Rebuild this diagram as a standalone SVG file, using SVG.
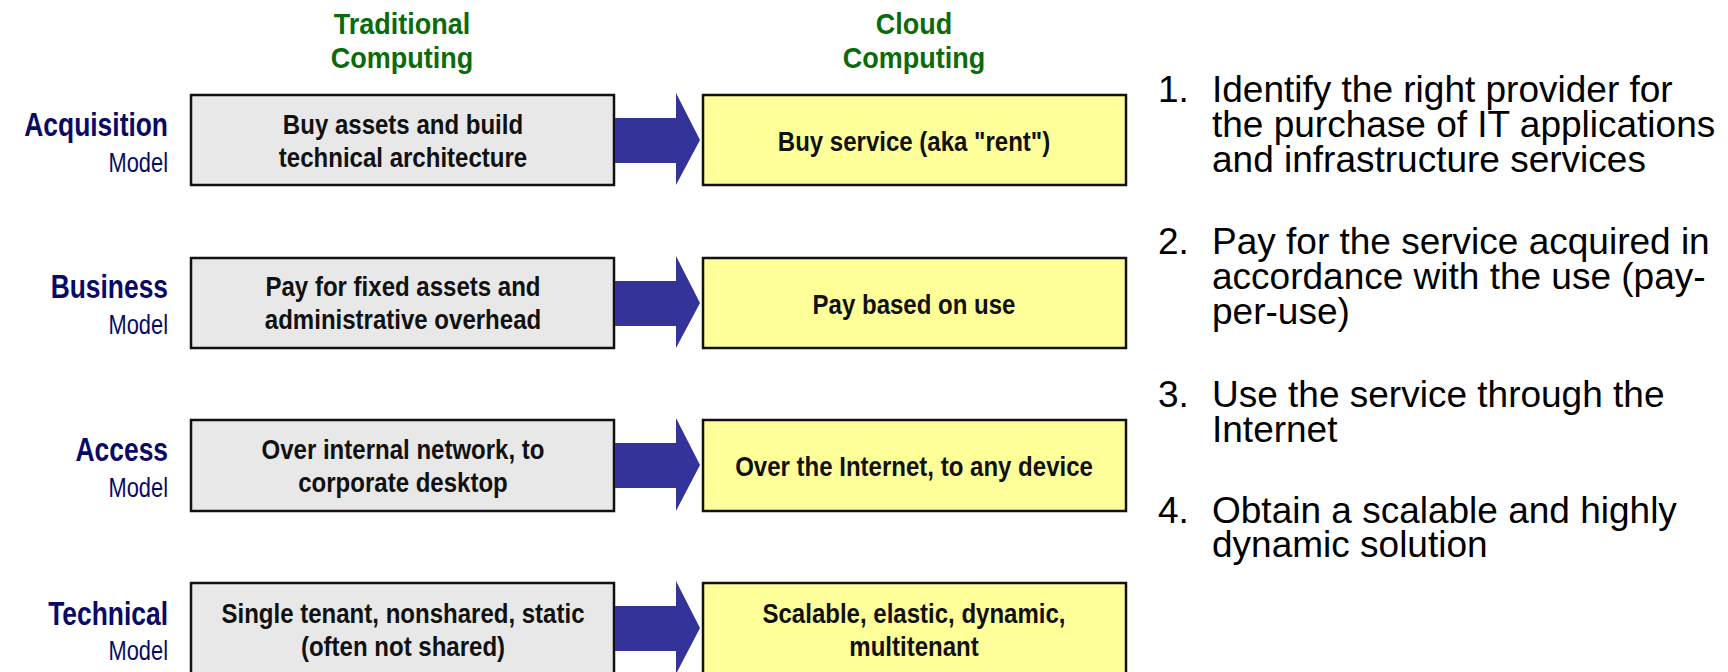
<svg xmlns="http://www.w3.org/2000/svg" width="1728" height="672" viewBox="0 0 1728 672">
<defs>
<style>
.hdr{font-family:"Liberation Sans",Arial,sans-serif;font-weight:bold;font-size:30px;fill:#0b6a0b;text-anchor:middle}
.lbl{font-family:"Liberation Sans",Arial,sans-serif;font-weight:bold;font-size:33px;fill:#0a0a66;text-anchor:end}
.sub{font-family:"Liberation Sans",Arial,sans-serif;font-size:28px;fill:#0a0a66;text-anchor:end}
.bt{font-family:"Liberation Sans",Arial,sans-serif;font-weight:bold;font-size:27px;fill:#111;text-anchor:middle}
.gray{fill:#e8e8e8;stroke:#111;stroke-width:2.5}
.yel{fill:#ffff99;stroke:#111;stroke-width:2.5}
.arr{fill:#333399}
.li{font-family:"Liberation Sans",Arial,sans-serif;font-size:37px;fill:#000}
</style>
</defs>
<rect width="1728" height="672" fill="#fff"/>
<g id="headers">
<text class="hdr" transform="translate(402,34) scale(0.9,1)">Traditional</text>
<text class="hdr" transform="translate(402,68) scale(0.9,1)">Computing</text>
<text class="hdr" transform="translate(914,34) scale(0.9,1)">Cloud</text>
<text class="hdr" transform="translate(914,68) scale(0.9,1)">Computing</text>
</g>
<g id="row-acquisition">
<text class="lbl" transform="translate(168,136) scale(0.8,1)">Acquisition</text>
<text class="sub" transform="translate(168,172) scale(0.78,1)">Model</text>
<g id="trad-acquisition"><rect class="gray" x="191" y="95" width="423" height="90"/>
<text class="bt" transform="translate(403,134) scale(0.89,1)">Buy assets and build</text>
<text class="bt" transform="translate(403,167) scale(0.89,1)">technical architecture</text></g>
<g id="cloud-acquisition"><rect class="yel" x="703" y="95" width="423" height="90"/>
<text class="bt" transform="translate(914,151) scale(0.89,1)">Buy service (aka "rent")</text></g>
</g>
<g id="row-business">
<text class="lbl" transform="translate(168,298) scale(0.8,1)">Business</text>
<text class="sub" transform="translate(168,334) scale(0.78,1)">Model</text>
<g id="trad-business"><rect class="gray" x="191" y="258" width="423" height="90"/>
<text class="bt" transform="translate(403,296) scale(0.89,1)">Pay for fixed assets and</text>
<text class="bt" transform="translate(403,329) scale(0.89,1)">administrative overhead</text></g>
<g id="cloud-business"><rect class="yel" x="703" y="258" width="423" height="90"/>
<text class="bt" transform="translate(914,314) scale(0.89,1)">Pay based on use</text></g>
</g>
<g id="row-access">
<text class="lbl" transform="translate(168,461) scale(0.8,1)">Access</text>
<text class="sub" transform="translate(168,497) scale(0.78,1)">Model</text>
<g id="trad-access"><rect class="gray" x="191" y="420" width="423" height="91"/>
<text class="bt" transform="translate(403,459) scale(0.89,1)">Over internal network, to</text>
<text class="bt" transform="translate(403,492) scale(0.89,1)">corporate desktop</text></g>
<g id="cloud-access"><rect class="yel" x="703" y="420" width="423" height="91"/>
<text class="bt" transform="translate(914,476) scale(0.89,1)">Over the Internet, to any device</text></g>
</g>
<g id="row-technical">
<text class="lbl" transform="translate(168,625) scale(0.8,1)">Technical</text>
<text class="sub" transform="translate(168,660) scale(0.78,1)">Model</text>
<g id="trad-technical"><rect class="gray" x="191" y="583" width="423" height="92"/>
<text class="bt" transform="translate(403,623) scale(0.89,1)">Single tenant, nonshared, static</text>
<text class="bt" transform="translate(403,656) scale(0.89,1)">(often not shared)</text></g>
<g id="cloud-technical"><rect class="yel" x="703" y="583" width="423" height="92"/>
<text class="bt" transform="translate(914,623) scale(0.89,1)">Scalable, elastic, dynamic,</text>
<text class="bt" transform="translate(914,656) scale(0.89,1)">multitenant</text></g>
</g>
<g id="connectors">
<polygon class="arr" points="615,118 676,118 676,93 700,140 676,185 676,163 615,163"/>
<polygon class="arr" points="615,281 676,281 676,256 700,303 676,348 676,326 615,326"/>
<polygon class="arr" points="615,443 676,443 676,418 700,465 676,511 676,488 615,488"/>
<polygon class="arr" points="615,606 676,606 676,581 700,628 676,674 676,651 615,651"/>
</g>
<g id="list">
<text class="li" x="1158" y="102">1.</text>
<text class="li" x="1212" y="102">Identify the right provider for</text>
<text class="li" x="1212" y="137">the purchase of IT applications</text>
<text class="li" x="1212" y="172">and infrastructure services</text>
<text class="li" x="1158" y="254">2.</text>
<text class="li" x="1212" y="254">Pay for the service acquired in</text>
<text class="li" x="1212" y="289">accordance with the use (pay-</text>
<text class="li" x="1212" y="324">per-use)</text>
<text class="li" x="1158" y="407">3.</text>
<text class="li" x="1212" y="407">Use the service through the</text>
<text class="li" x="1212" y="442">Internet</text>
<text class="li" x="1158" y="523">4.</text>
<text class="li" x="1212" y="523">Obtain a scalable and highly</text>
<text class="li" x="1212" y="557">dynamic solution</text>
</g>
</svg>
